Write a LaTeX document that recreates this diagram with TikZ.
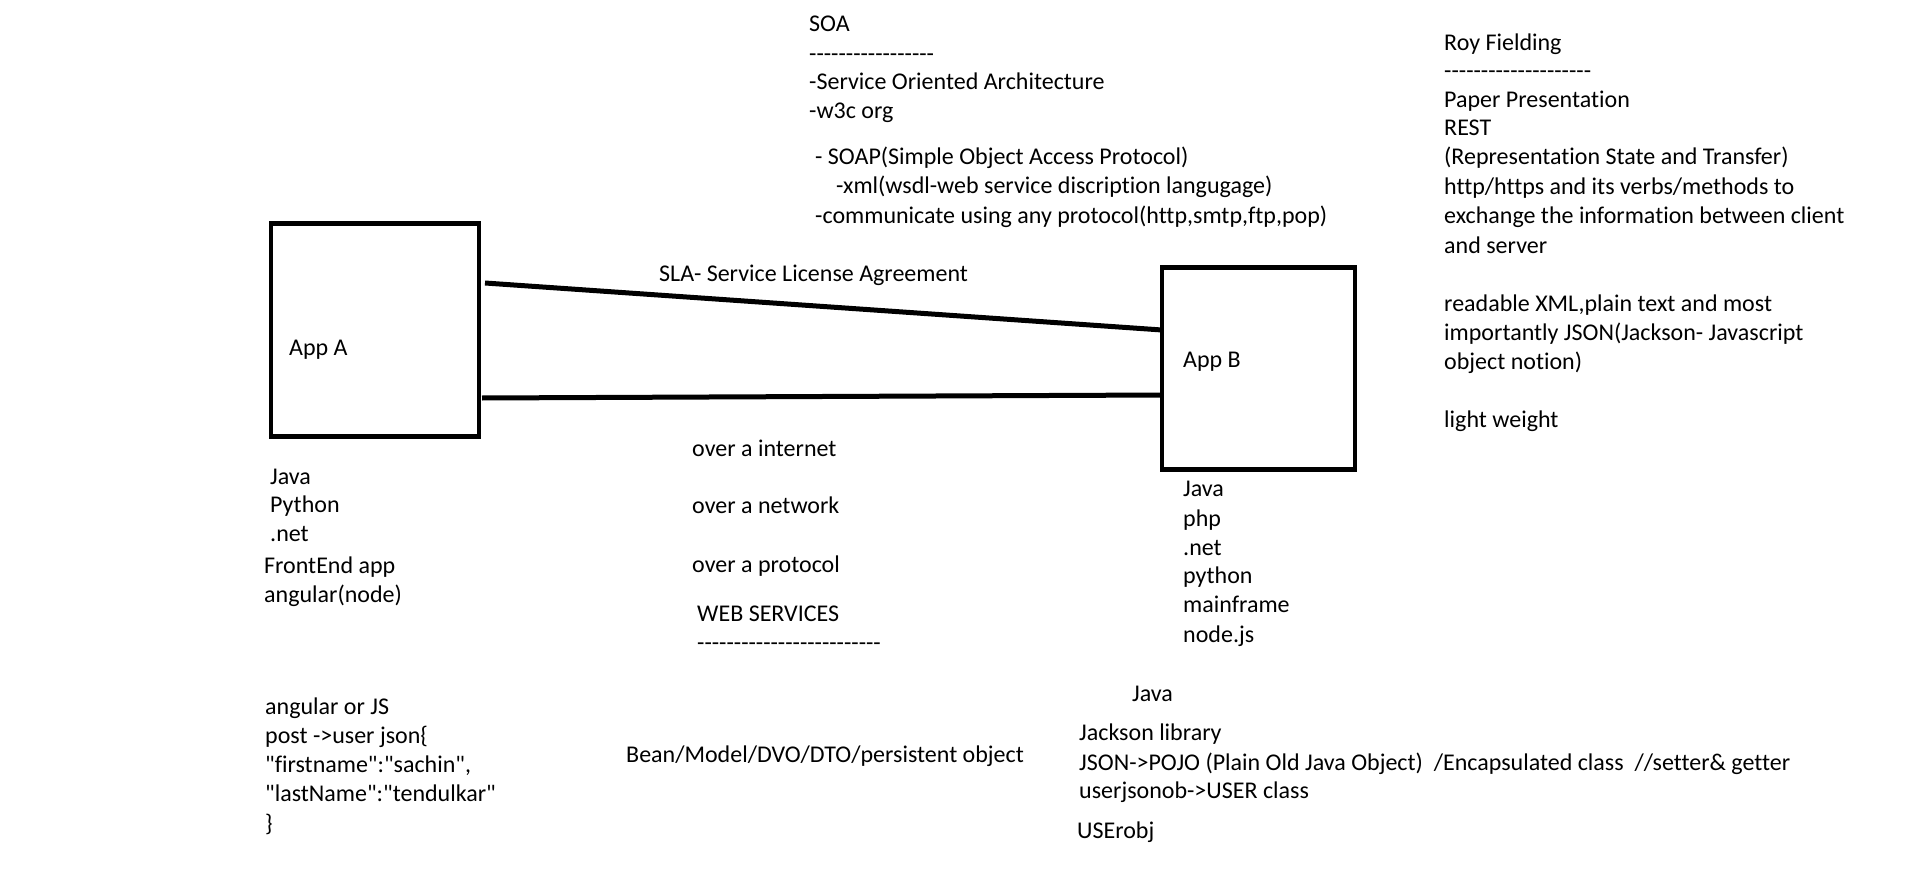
\documentclass[tikz,border=0pt]{standalone}
\usepackage{fontspec}
\setmainfont{Carlito}[Ligatures={TeXOff,CommonOff}]
\begin{document}
\begin{tikzpicture}[x=1pt,y=-1pt,
  txt/.style={anchor=base west,inner sep=0pt,font=\fontsize{24}{29}\selectfont},
  appbox/.style={draw,line width=4.5pt,inner sep=0pt},
  link/.style={line width=5pt}]
\useasboundingbox (0,0) rectangle (1914,869);
\newcommand\dsh[1]{\foreach \i in {1,...,#1}{-{}}}
% SOA block
\node[txt] (soa1) at (809,32) {SOA};
\node[txt] (soa2) at (809,62) {\dsh{17}};
\node[txt] (soa3) at (809,90) {-Service Oriented Architecture};
\node[txt] (soa4) at (809,119) {-w3c org};
\node[txt] (soa5) at (815,165) {- SOAP(Simple Object Access Protocol)};
\node[txt] (soa6) at (836,194) {-xml(wsdl-web service discription langugage)};
\node[txt] (soa7) at (815,223) {-communicate using any protocol(http,smtp,ftp,pop)};
% Roy Fielding block
\node[txt] (r1) at (1444,51) {Roy Fielding};
\node[txt] (r2) at (1444,79) {\dsh{20}};
\node[txt] (r3) at (1444,108) {Paper Presentation};
\node[txt] (r4) at (1444,136) {REST};
\node[txt] (r5) at (1444,165) {(Representation State and Transfer)};
\node[txt] (r6) at (1444,195) {http/https and its verbs/methods to};
\node[txt] (r7) at (1444,224) {exchange the information between client};
\node[txt] (r8) at (1444,253) {and server};
\node[txt] (r9) at (1444,311) {readable XML,plain text and most};
\node[txt] (r10) at (1444,340) {importantly JSON(Jackson- Javascript};
\node[txt] (r11) at (1444,369) {object notion)};
\node[txt] (r12) at (1444,427) {light weight};
% boxes
\node[appbox,minimum width=208,minimum height=213] (A) at (375,330) {};
\node[appbox,minimum width=193,minimum height=202] (B) at (1258.5,368.5) {};
\node[txt] (Atxt) at (289,355) {App A};
\node[txt] (Btxt) at (1183,367) {App B};
% connectors
\coordinate (s1) at (485,283);
\coordinate (e1) at (1162,330);
\coordinate (s2) at (482,398);
\coordinate (e2) at (1162,395);
\draw[link] (s1) -- (e1);
\draw[link] (s2) -- (e2);
\node[txt] (sla) at (659,281) {SLA- Service License Agreement};
% left list
\node[txt] (la1) at (270,484) {Java};
\node[txt] (la2) at (270,512) {Python};
\node[txt] (la3) at (270,541) {.net};
\node[txt] (la4) at (264,573) {FrontEnd app};
\node[txt] (la5) at (264,602) {angular(node)};
% middle
\node[txt] (m1) at (692,456) {over a internet};
\node[txt] (m2) at (692,513) {over a network};
\node[txt] (m3) at (692,572) {over a protocol};
\node[txt] (m4) at (697,621) {WEB SERVICES};
\node[txt] (m5) at (697,650) {\dsh{25}};
% App B list
\node[txt] (lb1) at (1183,496) {Java};
\node[txt] (lb2) at (1183,526) {php};
\node[txt] (lb3) at (1183,555) {.net};
\node[txt] (lb4) at (1183,583) {python};
\node[txt] (lb5) at (1183,612) {mainframe};
\node[txt] (lb6) at (1183,642) {node.js};
% bottom right
\node[txt] (j1) at (1132,701) {Java};
\node[txt] (j2) at (1079,740) {Jackson library};
\node[txt] (j3) at (1079,770) {JSON->POJO (Plain Old Java Object)~ /Encapsulated class~ //setter\& getter};
\node[txt] (j4) at (1079,798) {userjsonob->USER class};
\node[txt] (j5) at (1077,838) {USErobj};
% bottom left
\node[txt] (b1) at (265,714) {angular or JS};
\node[txt] (b2) at (265,743) {post ->user json\{};
\node[txt] (b3) at (265,772) {"firstname":"sachin",};
\node[txt] (b4) at (265,801) {"lastName":"tendulkar"};
\node[txt] (b5) at (265,831) {\}};
% bean
\node[txt] (bean) at (626,762) {Bean/Model/DVO/DTO/persistent object};
\end{tikzpicture}
\end{document}
